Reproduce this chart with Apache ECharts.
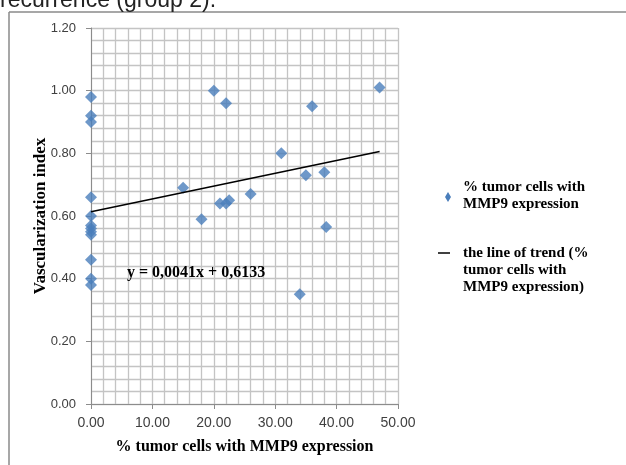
<!DOCTYPE html>
<html>
<head>
<meta charset="utf-8">
<script src="https://cdn.jsdelivr.net/npm/echarts@6/dist/echarts.min.js"></script>
<style>
html,body{margin:0;padding:0;background:#fff;}
#chart{width:626px;height:465px;}
</style>
</head>
<body>
<div id="chart"></div>
<script>
// Data
var pctTumorCells = [0, 0, 0, 0, 0, 0, 0, 0, 0, 0, 0, 0,
  15, 18, 20, 21, 22, 22.5, 22, 26, 31, 34, 35, 36, 38, 38.3, 47];
var vascIndex = [0.98, 0.92, 0.90, 0.66, 0.60, 0.57, 0.56, 0.55, 0.54, 0.46, 0.40, 0.38,
  0.69, 0.59, 1.00, 0.64, 0.64, 0.65, 0.96, 0.67, 0.80, 0.35, 0.73, 0.95, 0.74, 0.565, 1.01];
var trendX = [0, 47];
var trendY = [0.6133, 0.806];
var xTicks = [0, 10, 20, 30, 40, 50];
var yTicks = [0, 0.2, 0.4, 0.6, 0.8, 1.0, 1.2];
var seriesName = '% tumor cells with MMP9 expression';
var trendName = 'the line of trend (% tumor cells with MMP9 expression)';
var equationText = 'y = 0,0041x + 0,6133';
var titleText = 'recurrence (group 2).';
var yTitle = 'Vascularization index';
var xTitle = '% tumor cells with MMP9 expression';

var scatterData = pctTumorCells.map(function (x, i) { return [x, vascIndex[i]]; });
var trendData = trendX.map(function (x, i) { return [x, trendY[i]]; });

var serif = '"Liberation Serif", "Times New Roman", serif';
var sans = '"Liberation Sans", Arial, sans-serif';
var gridColor = '#c4c4c4';
var axisColor = '#8c8c8c';
var blue = '#4a7ebb';

var chart = echarts.init(document.getElementById('chart'), null, {renderer: 'canvas'});
chart.setOption({
  animation: false,
  backgroundColor: '#fff',
  grid: {left: 91, right: 228, top: 28, bottom: 61, containLabel: false},
  xAxis: {
    type: 'value', min: xTicks[0], max: xTicks[xTicks.length - 1], interval: 10,
    name: xTitle, nameLocation: 'middle', nameGap: 35,
    nameTextStyle: {fontFamily: serif, fontWeight: 'bold', fontSize: 16, color: '#000'},
    axisLine: {show: true, lineStyle: {color: axisColor, width: 1}},
    axisTick: {show: true, length: 5, lineStyle: {color: axisColor}},
    minorTick: {show: false, splitNumber: 5},
    axisLabel: {fontFamily: sans, fontSize: 14, color: '#404040', margin: 12,
      formatter: function (v) { return v.toFixed(2); }},
    splitLine: {show: true, lineStyle: {color: gridColor, width: 1.3}},
    minorSplitLine: {show: true, lineStyle: {color: gridColor, width: 1.3}}
  },
  yAxis: {
    type: 'value', min: yTicks[0], max: yTicks[yTicks.length - 1], interval: 0.2,
    axisLine: {show: true, lineStyle: {color: axisColor, width: 1}},
    axisTick: {show: true, length: 5, lineStyle: {color: axisColor}},
    minorTick: {show: false, splitNumber: 5},
    axisLabel: {fontFamily: sans, fontSize: 13, color: '#404040', margin: 15,
      formatter: function (v) { return v.toFixed(2); }},
    splitLine: {show: true, lineStyle: {color: gridColor, width: 1.3}},
    minorSplitLine: {show: true, lineStyle: {color: gridColor, width: 1.3}}
  },
  series: [
    {
      name: seriesName, type: 'scatter', data: scatterData,
      symbol: 'diamond', symbolSize: 12,
      itemStyle: {color: blue}, z: 3
    },
    {
      name: trendName, type: 'line', data: trendData,
      symbol: 'none', lineStyle: {color: '#000', width: 1.5}, z: 4
    }
  ],
  graphic: [
    {type: 'line', shape: {x1: 9, y1: 12, x2: 626, y2: 12}, style: {stroke: '#8a8a8a', lineWidth: 1.5}},
    {type: 'line', shape: {x1: 9, y1: 12, x2: 9, y2: 465}, style: {stroke: '#8a8a8a', lineWidth: 1.5}},
    {type: 'text', x: 0, y: -11, z: 10, style: {text: titleText, font: '23px ' + sans, fill: '#222'}},
    {type: 'text', x: 41, y: 216, rotation: Math.PI / 2, z: 10,
      style: {text: yTitle, font: 'bold 17px ' + serif, fill: '#000', align: 'center', verticalAlign: 'middle'}},
    {type: 'text', x: 127, y: 265, z: 10, style: {text: equationText, font: 'bold 16px ' + serif, fill: '#000'}},
    {type: 'polygon', z: 10, shape: {points: [[448, 192], [451, 197], [448, 202], [445, 197]]}, style: {fill: blue}},
    {type: 'text', x: 463, y: 179, z: 10, style: {text: '% tumor cells with\nMMP9 expression', font: 'bold 15px ' + serif, fill: '#000', lineHeight: 17}},
    {type: 'line', z: 10, shape: {x1: 438, y1: 253, x2: 450, y2: 253}, style: {stroke: '#000', lineWidth: 1.5}},
    {type: 'text', x: 463, y: 245, z: 10, style: {text: 'the line of trend (%\ntumor cells with\nMMP9 expression)', font: 'bold 15px ' + serif, fill: '#000', lineHeight: 17}}
  ]
});
</script>
</body>
</html>
